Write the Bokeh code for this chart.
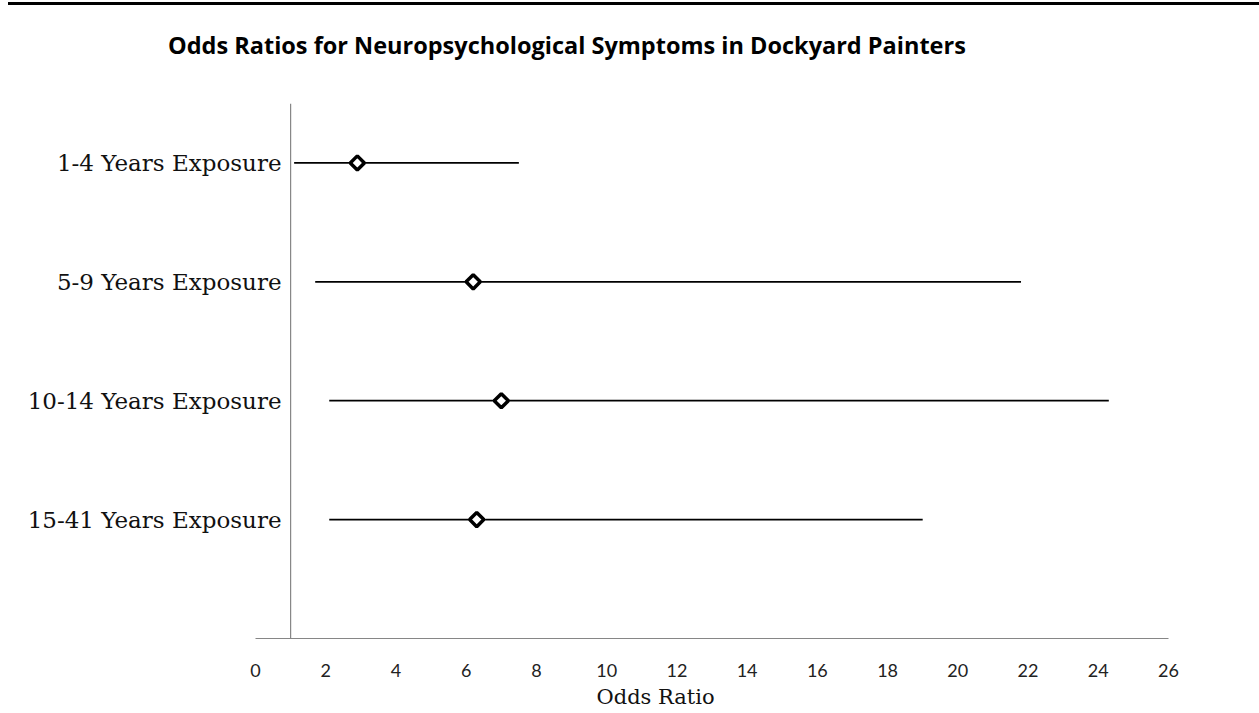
from bokeh.plotting import figure
from bokeh.models import ColumnDataSource, FixedTicker, Span, Title, Div, Range1d
from bokeh.layouts import column
from bokeh.embed import file_html
from bokeh.resources import INLINE
import numpy as np

# Exposure groups (top to bottom) and their odds ratios with 95% CI
categories = ["1-4 Years Exposure", "5-9 Years Exposure",
              "10-14 Years Exposure", "15-41 Years Exposure"]
odds_ratio = [2.9, 6.2, 7.0, 6.3]
ci_low = [1.1, 1.7, 2.1, 2.1]
ci_high = [7.5, 21.8, 24.3, 19.0]
x_ticks = list(range(0, 27, 2))

# row positions: first category at the top
rows = [len(categories) - i for i in range(len(categories))]

src = ColumnDataSource(dict(y=rows, cat=categories, or_=odds_ratio,
                            lo=ci_low, hi=ci_high))

p = figure(width=1259, height=648, output_backend="svg", toolbar_location=None,
           x_range=Range1d(0, 26), y_range=Range1d(0, 4.5),
           min_border_left=255, min_border_right=91,
           min_border_top=38, min_border_bottom=75)
p.background_fill_color = "white"
p.border_fill_color = "white"
p.outline_line_color = None
p.xgrid.visible = False
p.ygrid.visible = False

axis_grey = "#868686"

# x axis
xa = p.xaxis[0]
xa.ticker = FixedTicker(ticks=x_ticks)
xa.major_tick_out = 0
xa.major_tick_in = 0
xa.minor_tick_out = 0
xa.minor_tick_in = 0
xa.axis_line_color = axis_grey
xa.axis_line_width = 1.2
xa.major_label_standoff = 25
xa.major_label_text_font = "Lato"
xa.major_label_text_font_size = "18px"
xa.major_label_text_color = "#222222"

# category labels, pulled right so they sit next to the OR = 1 line
ya = p.yaxis[0]
ya.ticker = FixedTicker(ticks=rows)
ya.major_label_overrides = {r: c for r, c in zip(rows, categories)}
ya.major_tick_out = 0
ya.major_tick_in = 0
ya.minor_tick_out = 0
ya.minor_tick_in = 0
ya.axis_line_color = None
ya.major_label_standoff = -26
ya.major_label_text_font = "DejaVu Serif"
ya.major_label_text_font_size = "23px"
ya.major_label_text_color = "#111111"

# reference line at OR = 1
p.add_layout(Span(location=1, dimension="height", line_color=axis_grey,
                  line_width=1.2))

# confidence intervals and point estimates
p.segment(x0="lo", x1="hi", y0="y", y1="y", source=src,
          line_color="black", line_width=1.8)
p.scatter(x="or_", y="y", source=src, marker="square", angle=np.pi / 4,
          size=10, fill_color="white", line_color="black", line_width=3.5)

p.add_layout(Title(text="Odds Ratio", text_font="DejaVu Serif", text_font_style="normal",
                   text_font_size="21px", align="left", offset=341, standoff=7,
                   text_color="#111111"), "below")

rule = Div(text="", width=1251, height=3, margin=(2, 0, 0, 8),
           styles={"background-color": "black"})

heading = Div(text="Odds Ratios for Neuropsychological Symptoms in Dockyard Painters",
              width=1000, height=60, margin=(0, 0, 0, 168),
              styles={"font-family": "'Open Sans', sans-serif", "font-weight": "bold",
                      "font-size": "23.5px", "line-height": "28px",
                      "padding-top": "26px", "color": "black",
                      "box-sizing": "border-box", "white-space": "nowrap"})

layout = column(rule, heading, p, spacing=0)
open("out.html", "w").write(file_html(layout, INLINE))
